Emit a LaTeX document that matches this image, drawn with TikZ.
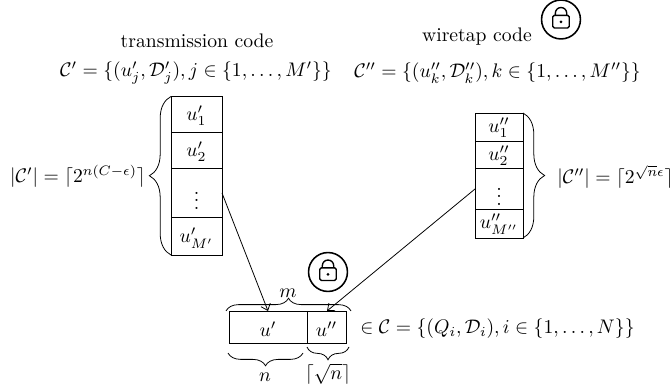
\documentclass[tikz,border=0pt]{standalone}
\usepackage{amsmath,amssymb}
\usetikzlibrary{decorations.pathreplacing,calc,arrows.meta}
\tikzset{
  px/.style={x=0.509pt,y=-0.509pt},
  lbl/.style={inner sep=0pt,anchor=center},
  brcbig/.style={decorate,decoration={brace,amplitude=11pt}},
  brc/.style={decorate,decoration={brace,amplitude=6.5pt}},
  conn/.style={-{Straight Barb[length=3pt,width=5pt]}},
  lockring/.style={draw,line width=0.8pt,circle,inner sep=0pt,minimum size=19.8pt},
}
\newcommand{\lockicon}[2]{%
  \node[lockring] (#1) at (#2) {};
  \fill[white,draw=black,line width=0.7pt,rounded corners=0.8pt] ($(#1)+(-4.2pt,-4.3pt)$) rectangle ($(#1)+(4.2pt,2.1pt)$);
  \draw[line width=0.7pt] ($(#1)+(-2.9pt,2.1pt)$) -- ($(#1)+(-2.9pt,3.2pt)$) arc[start angle=180,end angle=0,radius=2.9pt] -- ($(#1)+(2.9pt,2.1pt)$);
  \fill ($(#1)+(0,-1.2pt)$) circle[radius=0.8pt];
}
\begin{document}
\begin{tikzpicture}[px]
\useasboundingbox (0,0) rectangle (672,385);
% left stack
\draw (171,96.5) rectangle (222,255);
\draw (171,132) -- (222,132);
\draw (171,168) -- (222,168);
\draw (171,217) -- (222,217);
\node[lbl] (a1) at (196.5,116) {$u'_1$};
\node[lbl] (a2) at (196.5,152) {$u'_2$};
\node[lbl] (a3) at (196.5,195) {$\vdots$};
\node[lbl] (a4) at (196.5,238) {$u'_{M'}$};
% right stack
\draw (475,113) rectangle (523,238);
\draw (475,141) -- (523,141);
\draw (475,168.5) -- (523,168.5);
\draw (475,209) -- (523,209);
\node[lbl] (b1) at (499,128) {$u''_1$};
\node[lbl] (b2) at (499,156) {$u''_2$};
\node[lbl] (b3) at (499,191) {$\vdots$};
\node[lbl] (b4) at (499,224) {$u''_{M''}$};
% bottom
\draw (229,311) rectangle (346,343);
\draw (307,311) -- (307,343);
\node[lbl] (c1) at (268,329) {$u'$};
\node[lbl] (c2) at (326.5,329) {$u''$};
\coordinate (ct1) at (268,311);
\coordinate (ct2) at (327,311);
\coordinate (ls) at (222,193);
\coordinate (rs) at (475,189);
\draw[conn] (ls) -- (ct1);
\draw[conn] (rs) -- (ct2);
% braces
\draw[brcbig] (171,255) -- (171,96.5);
\draw[brcbig] (523,113) -- (523,238);
\draw[brc] (226,311) -- (351,311);
\draw[brc] (303,353) -- (228,353);
\draw[brc] (349,347) -- (307,347);
% labels
\node[lbl] (t1) at (197,41) {transmission code};
\node[lbl] (t2) at (477,37) {wiretap code};
\node[lbl] (f1) at (196,73) {$\mathcal{C}'=\{(u'_j,\mathcal{D}'_j),j\in\{1,\dots,M'\}\}$};
\node[lbl] (f2) at (497.5,73) {$\mathcal{C}''=\{(u''_k,\mathcal{D}''_k),k\in\{1,\dots,M''\}\}$};
\node[lbl,anchor=east] (s1) at (146,176) {$|\mathcal{C}'|=\lceil 2^{n(C-\epsilon)}\rceil$};
\node[lbl,anchor=west] (s2) at (557,177) {$|\mathcal{C}''|=\lceil 2^{\sqrt{n}\epsilon}\rceil$};
\node[lbl] (m) at (288,293) {$m$};
\node[lbl] (n) at (265,377) {$n$};
\node[lbl] (rn) at (328,374) {$\lceil\sqrt{n}\rceil$};
\node[lbl,anchor=west] (s3) at (360,329) {$\in\mathcal{C}=\{(Q_i,\mathcal{D}_i),i\in\{1,\dots,N\}\}$};
\lockicon{L1}{561,19.5}
\lockicon{L2}{328,272}
\end{tikzpicture}
\end{document}
